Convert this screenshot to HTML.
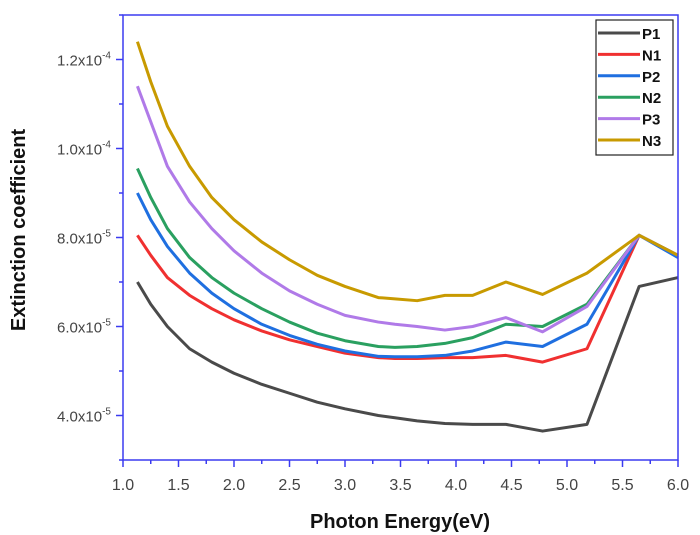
<!DOCTYPE html>
<html><head><meta charset="utf-8"><style>
html,body{margin:0;padding:0;background:#fff;}
svg{display:block;font-family:"Liberation Sans",sans-serif;}
</style></head><body>
<svg id="chart" width="700" height="535">
<g id="plot"></g>
<text x="400" y="528" text-anchor="middle" font-size="20" font-weight="bold" fill="#111">Photon Energy(eV)</text>
<text transform="translate(25,230) rotate(-90)" text-anchor="middle" font-size="20" font-weight="bold" fill="#111">Extinction coefficient</text>
</svg>
<script>
const xVals=[1.13,1.25,1.4,1.6,1.8,2.0,2.25,2.5,2.75,3.0,3.3,3.45,3.65,3.9,4.15,4.45,4.78,5.18,5.65,6.0];
const seriesNames=["P1","N1","P2","N2","P3","N3"];
const seriesColors=["#4a4a4a","#f03030","#1f6fe0","#2aa060","#b07ae8","#c89a00"];
const P1=[7.0,6.5,6.0,5.5,5.2,4.95,4.7,4.5,4.3,4.15,4.0,3.95,3.88,3.82,3.8,3.8,3.65,3.8,6.9,7.1];
const N1=[8.05,7.6,7.1,6.7,6.4,6.15,5.9,5.7,5.55,5.4,5.3,5.28,5.28,5.3,5.3,5.35,5.2,5.5,8.05,7.6];
const P2=[9.0,8.4,7.8,7.2,6.75,6.4,6.05,5.8,5.6,5.45,5.33,5.32,5.32,5.35,5.45,5.65,5.55,6.05,8.05,7.55];
const N2=[9.55,8.9,8.2,7.55,7.1,6.75,6.4,6.1,5.85,5.68,5.55,5.53,5.55,5.62,5.75,6.05,6.0,6.5,8.05,7.6];
const P3=[11.4,10.6,9.6,8.8,8.2,7.7,7.2,6.8,6.5,6.25,6.1,6.05,6.0,5.92,6.0,6.2,5.88,6.45,8.05,7.6];
const N3=[12.4,11.5,10.5,9.6,8.9,8.4,7.9,7.5,7.15,6.9,6.65,6.62,6.58,6.7,6.7,7.0,6.72,7.2,8.05,7.6];
const xTicks=[1.0,1.5,2.0,2.5,3.0,3.5,4.0,4.5,5.0,5.5,6.0];
const yTicks=[4,6,8,10,12];
const yTickLabels=[["4.0x10","-5"],["6.0x10","-5"],["8.0x10","-5"],["1.0x10","-4"],["1.2x10","-4"]];

const L=123,R=678,T=15,B=460;
const X0=1,X1=6,Y0=3,Y1=13;
const sx=v=>L+(v-X0)/(X1-X0)*(R-L);
const sy=v=>B-(v-Y0)/(Y1-Y0)*(B-T);
const NS="http://www.w3.org/2000/svg";
const g=document.getElementById('plot');
function mk(tag,attrs,parent){const e=document.createElementNS(NS,tag);for(const k in attrs)e.setAttribute(k,attrs[k]);(parent||g).appendChild(e);return e;}
const axisCol="#3b3bf0";
const all=[P1,N1,P2,N2,P3,N3];
all.forEach((s,i)=>{
  const p=mk('polyline',{points:s.map((v,j)=>sx(xVals[j])+','+sy(v)).join(' '),fill:'none',stroke:seriesColors[i],'stroke-width':3,'stroke-linejoin':'round'});
  
  
});
const fr=mk('rect',{x:L,y:T,width:R-L,height:B-T,fill:'none',stroke:axisCol,'stroke-width':1.5});


xTicks.forEach(v=>{
  mk('line',{x1:sx(v),x2:sx(v),y1:B,y2:B+7,stroke:axisCol,'stroke-width':1.5});
  const t=mk('text',{x:sx(v),y:B+30,'text-anchor':'middle','font-size':16,fill:'#444'});
  t.textContent=v.toFixed(1);
  
  
});
for(let v=1.25;v<6;v+=0.5){mk('line',{x1:sx(v),x2:sx(v),y1:B,y2:B+4,stroke:axisCol,'stroke-width':1.5});}
yTicks.forEach((v,i)=>{
  mk('line',{x1:L-7,x2:L,y1:sy(v),y2:sy(v),stroke:axisCol,'stroke-width':1.5});
  const t=mk('text',{x:L-12,y:sy(v)+6,'text-anchor':'end','font-size':15,fill:'#444'});
  
  
  const a=document.createElementNS(NS,'tspan');a.textContent=yTickLabels[i][0];t.appendChild(a);
  const b=document.createElementNS(NS,'tspan');b.setAttribute('dy','-7');b.setAttribute('font-size','10');b.textContent=yTickLabels[i][1];t.appendChild(b);
});
for(let v=3;v<=13;v+=2){mk('line',{x1:L-4,x2:L,y1:sy(v),y2:sy(v),stroke:axisCol,'stroke-width':1.5});}
const lg=mk('g',{});


mk('rect',{x:596,y:20,width:77,height:135,fill:'#fff',stroke:'#222','stroke-width':1.2},lg);
seriesNames.forEach((n,i)=>{
  const y=33+i*21.4;
  const e=mk('g',{},lg);
  
  
  mk('line',{x1:598,x2:640,y1:y,y2:y,stroke:seriesColors[i],'stroke-width':3},e);
  const t=mk('text',{x:642,y:y+6,'font-size':15,'font-weight':'bold',fill:'#111'},e);
  t.textContent=n;
});
</script>
</body></html>
